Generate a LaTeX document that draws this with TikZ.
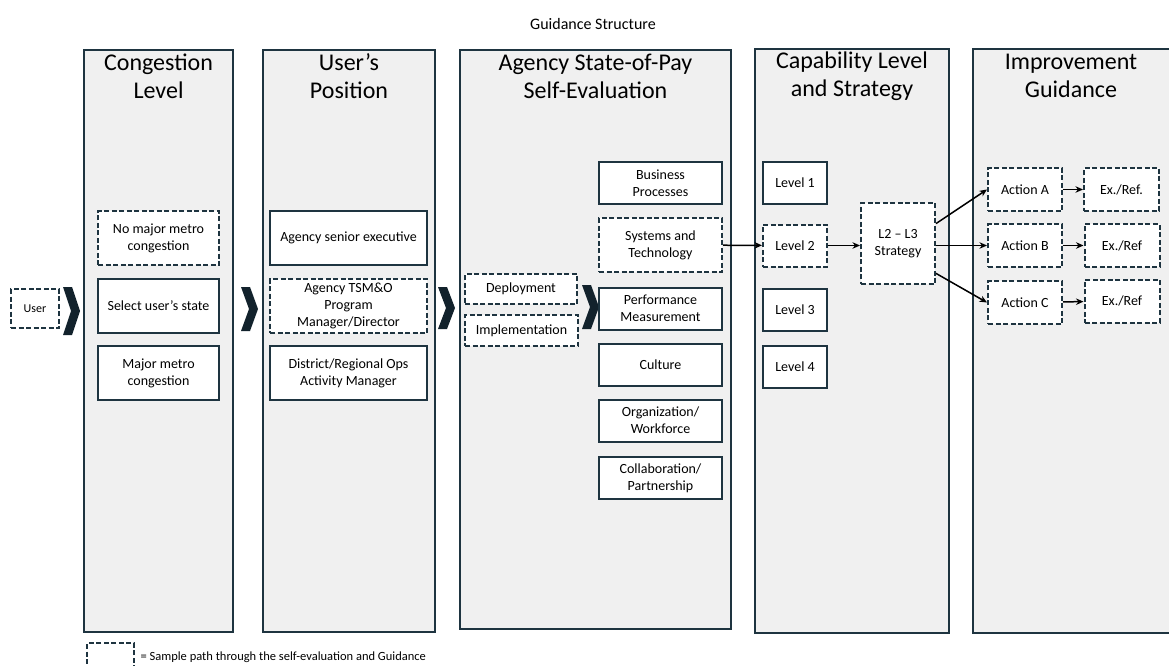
\documentclass[tikz,border=0pt]{standalone}
\usepackage{fontspec}
\setmainfont{Carlito}
\usetikzlibrary{arrows.meta,calc}

\definecolor{frame}{HTML}{1E3440}
\definecolor{chev}{HTML}{12222C}
\definecolor{panel}{HTML}{F0F0F0}

\tikzset{
  panel/.style={draw=frame, fill=panel, line width=2pt},
  head/.style={font=\fontsize{24}{28}\selectfont, align=center},
  item/.style={draw=frame, fill=white, line width=2pt, align=center, inner sep=1pt,
    font=\fontsize{14}{17}\selectfont},
  sample/.style={item, dash pattern=on 5pt off 2.5pt},
  link/.style={-{Stealth[length=7.5pt,width=6.5pt]}, line width=1.5pt},
  congbox/.style={minimum width=121pt, minimum height=54pt},
  posbox/.style={minimum width=157pt, minimum height=54pt},
  areabox/.style={minimum width=123pt, minimum height=42pt},
  lvlbox/.style={minimum width=64pt, minimum height=42pt},
  actbox/.style={minimum width=74pt, minimum height=43pt},
  refbox/.style={minimum width=75pt, minimum height=43pt},
}

\begin{document}
\begin{tikzpicture}[x=1pt, y=-1pt]
  \useasboundingbox (0,0) rectangle (1169,666);

  \node[font=\fontsize{16}{19}\selectfont] (title) at (593,24) {Guidance Structure};

  % the five columns
  \foreach \l/\t/\r/\b in {84/50/233/632, 263/50/435/632, 460/50/731/629,
                           755/49/949/633, 973/49/1185/633}
    \draw[panel] (\l,\t) rectangle (\r,\b);

  \node[head] (hcong) at (158.5,76) {Congestion\\Level};
  \node[head] (hpos) at (349,76) {User’s\\Position};
  \node[head] (hself) at (595.5,76) {Agency State-of-Pay\\Self-Evaluation};
  \node[head] (hcap) at (852,76) {Capability Level\\and Strategy};
  \node[head] (himp) at (1071,76) {Improvement\\Guidance};

  % chevrons between the steps
  \foreach \x/\y/\h in {63/311/24, 241/309/22, 438/308/21, 582/307/22}
    \fill[chev] (\x,\y-\h) -- (\x+9,\y-\h) -- (\x+17,\y) -- (\x+9,\y+\h)
      -- (\x,\y+\h) -- (\x+8,\y) -- cycle;

  \node[sample, minimum width=48pt, minimum height=39pt, font=\fontsize{12}{14}\selectfont]
    (user) at (35,308.5) {User};

  % congestion level
  \node[sample, congbox] (nomajor) at (158.5,238) {No major metro\\congestion};
  \node[item, congbox] (state) at (158.5,306) {Select user’s state};
  \node[item, congbox] (major) at (158.5,373) {Major metro\\congestion};

  % user's position
  \node[item, posbox] (senior) at (348.5,238) {Agency senior executive};
  \node[sample, posbox] (tsmo) at (348.5,306) {Agency TSM\&O\\Program\\Manager/Director};
  \node[item, posbox] (district) at (348.5,373) {District/Regional Ops\\Activity Manager};

  % self-evaluation
  \node[sample, minimum width=112pt, minimum height=30pt] (deploy) at (521,289) {Deployment};
  \node[sample, minimum width=113pt, minimum height=31pt] (implem) at (521.5,330.5) {Implementation};

  \node[item, areabox] (business) at (660.5,183) {Business\\Processes};
  \node[sample, areabox, minimum height=54pt] (systems) at (660.5,245) {Systems and\\Technology};
  \node[item, areabox] (perf) at (660.5,308.5) {Performance\\Measurement};
  \node[item, areabox] (culture) at (660.5,365) {Culture};
  \node[item, areabox] (org) at (660.5,420.5) {Organization/\\Workforce};
  \node[item, areabox] (collab) at (660.5,478) {Collaboration/\\Partnership};

  % capability level
  \node[item, lvlbox] (lvla) at (795,183) {Level 1};
  \node[sample, lvlbox] (lvlb) at (795,245.5) {Level 2};
  \node[item, lvlbox] (lvlc) at (795,309.5) {Level 3};
  \node[item, lvlbox] (lvld) at (795,367) {Level 4};
  \node[sample, minimum width=74pt, minimum height=81pt] (strat) at (898,243.5) {L2 – L3\\Strategy};

  % improvement guidance
  \node[sample, actbox] (acta) at (1025,189.5) {Action A};
  \node[sample, actbox] (actb) at (1025,245.5) {Action B};
  \node[sample, actbox] (actc) at (1025,302.5) {Action C};
  \node[sample, refbox] (refa) at (1121.5,189.5) {Ex./Ref.};
  \node[sample, refbox] (refb) at (1122,245.5) {Ex./Ref};
  \node[sample, refbox] (refc) at (1122,301) {Ex./Ref};

  \draw[link] (systems) -- (lvlb);
  \draw[link] (lvlb) -- (lvlb -| strat.west);
  \draw[link] ($(strat.north east)!0.26!(strat.south east)$) -- (acta.west);
  \draw[link] (strat.east |- actb) -- (actb.west);
  \draw[link] ($(strat.north east)!0.86!(strat.south east)$) -- (actc.west);
  \foreach \a/\e in {acta/refa, actb/refb, actc/refc}
    \draw[link] (\a) -- (\e);

  % legend
  \node[sample, minimum width=47pt, minimum height=40pt, anchor=north west] (key) at (86,642) {};
  \node[anchor=west, font=\fontsize{12.5}{15}\selectfont] (keytext) at (137,657)
    {= Sample path through the self-evaluation and Guidance};
\end{tikzpicture}
\end{document}
